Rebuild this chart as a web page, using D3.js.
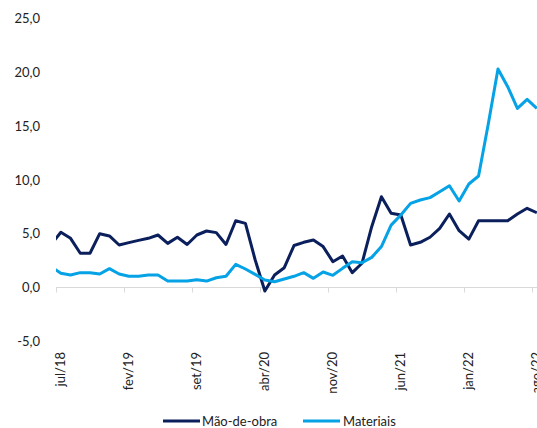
<!DOCTYPE html>
<html>
<head>
<meta charset="utf-8">
<script src="https://cdn.jsdelivr.net/npm/d3@7"></script>
<style>
  html, body { margin: 0; padding: 0; background: #fff; }
  svg { display: block; font-family: Lato, "Open Sans", sans-serif; }
</style>
</head>
<body>
<div id="chart"></div>
<script>
// Monthly categories (the first month only feeds the line into the plot edge)
const months = [
  "jun/18","jul/18","ago/18","set/18","out/18","nov/18","dez/18",
  "jan/19","fev/19","mar/19","abr/19","mai/19","jun/19","jul/19","ago/19","set/19","out/19","nov/19","dez/19",
  "jan/20","fev/20","mar/20","abr/20","mai/20","jun/20","jul/20","ago/20","set/20","out/20","nov/20","dez/20",
  "jan/21","fev/21","mar/21","abr/21","mai/21","jun/21","jul/21","ago/21","set/21","out/21","nov/21","dez/21",
  "jan/22","fev/22","mar/22","abr/22","mai/22","jun/22","jul/22","ago/22"
];

// Mão-de-obra (%)
const maoDeObra = [
  4.0, 5.13, 4.57, 3.18, 3.18, 5.0, 4.79, 3.95, 4.17, 4.38, 4.57, 4.88, 4.1, 4.67, 4.0, 4.88,
  5.25, 5.1, 4.0, 6.2, 5.96, 2.58, -0.33, 1.16, 1.84, 3.9, 4.2, 4.41, 3.8, 2.4, 2.93, 1.38,
  2.25, 5.65, 8.44, 6.9, 6.74, 3.95, 4.2, 4.67, 5.5, 6.83, 5.28, 4.5, 6.2, 6.2, 6.2, 6.2,
  6.83, 7.36, 6.95
];

// Materiais (%)
const materiais = [
  1.93, 1.32, 1.16, 1.38, 1.38, 1.25, 1.75, 1.25, 1.04, 1.04, 1.16, 1.16, 0.6, 0.6, 0.6, 0.73,
  0.6, 0.91, 1.04, 2.15, 1.72, 1.22, 0.7, 0.54, 0.79, 1.04, 1.38, 0.85, 1.44, 1.13, 1.78, 2.4,
  2.3, 2.8, 3.8, 5.8, 6.74, 7.82, 8.13, 8.35, 8.9, 9.46, 8.04, 9.62, 10.36, 15.2, 20.3, 18.66,
  16.65, 17.49, 16.65
];

const yTicks = [-5, 0, 5, 10, 15, 20, 25];
const labelEvery = 7;          // one label every 7 months, starting at jul/18
const firstLabelIndex = 1;

const seriesNames = ["Mão-de-obra", "Materiais"];
const colors = ["#0b1f5c", "#05a2e6"];

const W = 537, H = 428;
const svg = d3.select("#chart").append("svg").attr("width", W).attr("height", H);

// Index scale: plot area spans from the jun/jul 18 boundary onward
const x = d3.scaleLinear().domain([0.5, 50.5]).range([56, 541.7]);
const y = d3.scaleLinear().domain([-5, 25]).range([341.3, 18.5]);

svg.append("defs").append("clipPath").attr("id", "plot")
  .append("rect").attr("x", x(0.5)).attr("y", 0).attr("width", x(50.5) - x(0.5)).attr("height", H);

// Brazilian number format: decimal comma, plain hyphen for negatives
const ptBR = d3.formatLocale({ decimal: ",", thousands: ".", grouping: [3], currency: ["R$", ""], minus: "-" });
const fmt = ptBR.format(".1f");

// Y axis labels
const yAxis = svg.append("g").attr("transform", "translate(40,0)")
  .call(d3.axisLeft(y).tickValues(yTicks).tickSize(0).tickPadding(0).tickFormat(fmt));
yAxis.select(".domain").remove();
yAxis.selectAll("text").attr("font-size", 13).attr("fill", "#222")
  .attr("font-family", "Lato, 'Open Sans', sans-serif");

// Category axis along zero, ticks at period boundaries
const tickIdx = d3.range(firstLabelIndex, months.length, labelEvery);
const xAxis = svg.append("g").attr("transform", `translate(0,${y(0)})`)
  .call(d3.axisBottom(x).tickValues(tickIdx.map(i => i - 0.5)).tickSize(5).tickFormat(""));
xAxis.select(".domain").attr("stroke", "#d9d9d9").attr("d", `M${x(0.5)},0H${x(50.5)}`);
xAxis.selectAll(".tick line").attr("stroke", "#d9d9d9");

// Rotated month labels at category centres
svg.append("g").selectAll("text").data(tickIdx).join("text")
  .attr("transform", i => `translate(${x(i)},352) rotate(-90)`)
  .attr("text-anchor", "end")
  .attr("dy", "0.35em")
  .attr("font-size", 13)
  .attr("fill", "#222")
  .text(i => months[i]);

// Lines
const line = d3.line().x((d, i) => x(i)).y(d => y(d));
const plot = svg.append("g").attr("clip-path", "url(#plot)");
[maoDeObra, materiais].forEach((s, k) => {
  plot.append("path").datum(s)
    .attr("fill", "none")
    .attr("stroke", colors[k])
    .attr("stroke-width", 3)
    .attr("stroke-linejoin", "round")
    .attr("d", line);
});

// Legend
const legendItems = [{ x0: 163, tx: 202 }, { x0: 303, tx: 343 }];
const lg = svg.append("g");
seriesNames.forEach((name, k) => {
  const it = legendItems[k];
  lg.append("line").attr("x1", it.x0).attr("x2", it.x0 + 37)
    .attr("y1", 421).attr("y2", 421)
    .attr("stroke", colors[k]).attr("stroke-width", 3);
  lg.append("text").attr("x", it.tx).attr("y", 421).attr("dy", "0.35em")
    .attr("font-size", 13).attr("fill", "#222").text(name);
});
</script>
</body>
</html>
